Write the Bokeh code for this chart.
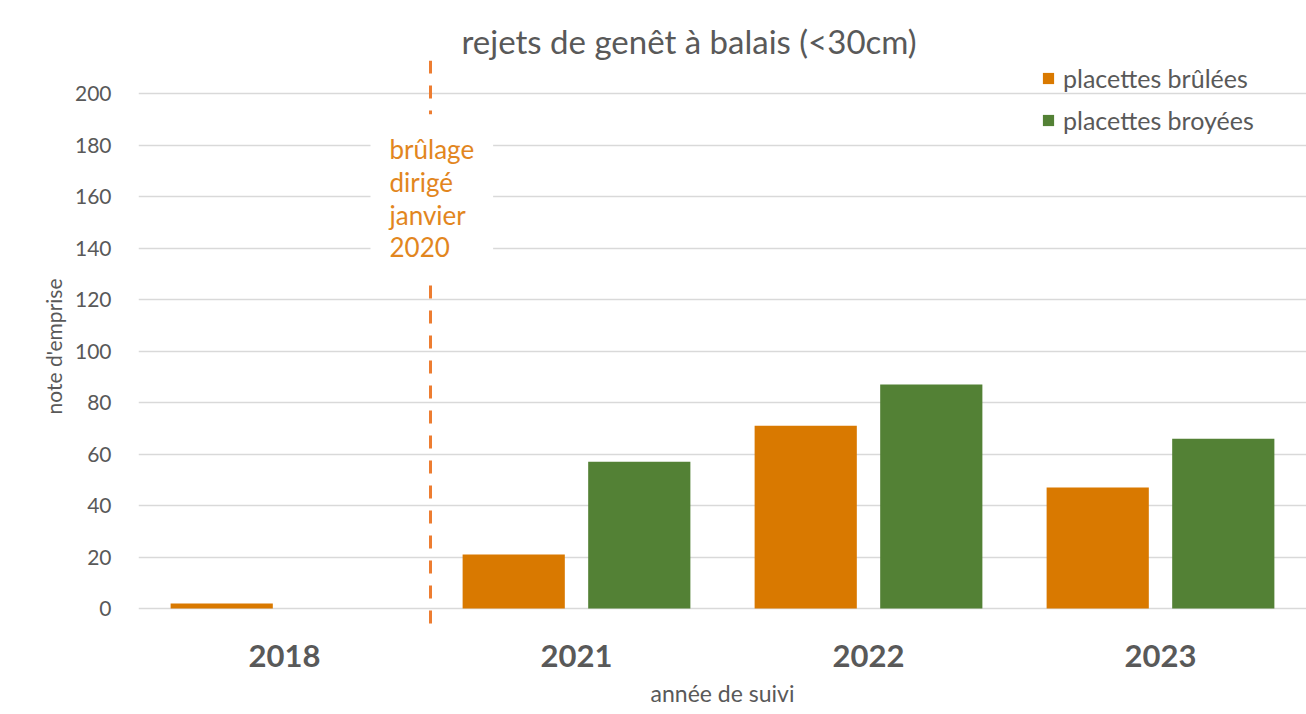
from bokeh.plotting import figure
from bokeh.models import Range1d, FactorRange, Label, Span, SingleIntervalTicker, Title
from bokeh.transform import dodge
from bokeh.embed import file_html
from bokeh.resources import INLINE

# ---- data ----
years = ["2018", "2021", "2022", "2023"]
brulees = [2, 21, 71, 47]
broyees = [0, 57, 87, 66]
series_names = ["placettes brûlées", "placettes broyées"]
title_text = "rejets de genêt à balais (<30cm)"
annotation_text = "brûlage\ndirigé\njanvier\n2020"
x_title = "année de suivi"
y_title = "note d'emprise"

FONT = "Lato"
GREY = "#595959"
ORANGE = "#D97900"
GREEN = "#538135"

p = figure(
    width=1306, height=714,
    x_range=FactorRange(factors=years, range_padding=0),
    y_range=Range1d(-9.3, 212.9),
    output_backend="svg", toolbar_location=None,
    min_border_left=138, min_border_right=0, min_border_top=60, min_border_bottom=82,
)
p.title = Title(text=title_text, align="left", text_font=FONT, text_font_size="33px",
                text_font_style="normal", text_color=GREY, standoff=0, offset=323)
p.outline_line_color = None

src = dict(year=years, brulees=brulees, broyees=broyees)
p.vbar(x=dodge("year", -0.215, range=p.x_range), top="brulees", width=0.35, source=src,
       fill_color=ORANGE, line_color=None, legend_label=series_names[0])
p.vbar(x=dodge("year", 0.215, range=p.x_range), top="broyees", width=0.35, source=src,
       fill_color=GREEN, line_color=None, legend_label=series_names[1])

# axes
p.yaxis.ticker = SingleIntervalTicker(interval=20)
p.ygrid.ticker = SingleIntervalTicker(interval=20)
p.ygrid.grid_line_color = "#d9d9d9"
p.ygrid.grid_line_width = 1.5
p.xgrid.grid_line_color = None
for ax in (p.xaxis[0], p.yaxis[0]):
    ax.axis_line_color = None
    ax.major_tick_line_color = None
    ax.minor_tick_line_color = None
    ax.major_label_text_color = GREY
    ax.major_label_text_font = FONT
    ax.axis_label_text_color = GREY
    ax.axis_label_text_font = FONT
    ax.axis_label_text_font_style = "normal"
p.yaxis.major_label_text_font_size = "21px"
p.yaxis.major_label_standoff = 21
p.yaxis.axis_label = y_title
p.yaxis.axis_label_text_font_size = "21px"
p.yaxis.axis_label_standoff = 6
p.xaxis.major_label_text_font_size = "31px"
p.xaxis.major_label_text_font_style = "bold"
p.xaxis.major_label_standoff = 6
p.xaxis.axis_label = x_title
p.xaxis.axis_label_text_font_size = "23px"
p.xaxis.axis_label_standoff = 9

# dashed event line between 2018 and 2021
p.add_layout(Span(location=1.0, dimension="height", line_color="#ED7D31",
                  line_width=3, line_dash="13 12"))
p.add_layout(Label(x=1.0, y=192, text=annotation_text, x_offset=-60,
                   text_align="left", text_baseline="top", text_font=FONT,
                   text_font_size="26px", text_color="#E2861E", text_line_height=1.02,
                   background_fill_color="white", padding=19))

# legend
lg = p.legend[0]
lg.location = (903, 497)
lg.orientation = "vertical"
lg.background_fill_alpha = 0
lg.border_line_color = None
lg.label_text_font = FONT
lg.label_text_font_size = "25px"
lg.label_text_color = GREY
lg.glyph_width = 14
lg.glyph_height = 14
lg.label_height = 28
lg.spacing = 12
lg.label_standoff = 8
lg.padding = 4
lg.margin = 0

open("out.html", "w").write(file_html(p, INLINE))
